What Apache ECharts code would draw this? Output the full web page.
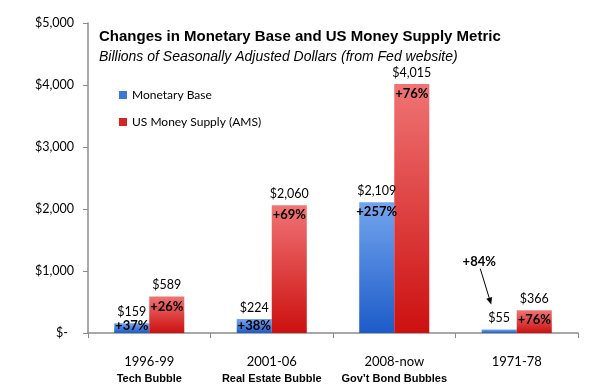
<!DOCTYPE html>
<html><head><meta charset="utf-8">
<script src="https://cdn.jsdelivr.net/npm/echarts@6/dist/echarts.min.js"></script>
<style>html,body{margin:0;padding:0;background:#fff}#c{width:600px;height:392px}</style>
</head><body><div id="c"></div>
<script>
const categories = ['1996-99', '2001-06', '2008-now', '1971-78'];
const categoryNotes = ['Tech Bubble', 'Real Estate Bubble', 'Gov\u2019t Bond Bubbles', ''];
const monetaryBase = [159, 224, 2109, 55];
const moneySupply = [589, 2060, 4015, 366];
const baseChange = ['+37%', '+38%', '+257%', '+84%'];
const supplyChange = ['+26%', '+69%', '+76%', '+76%'];
const yMin = 0, yMax = 5000, yStep = 1000;

const BAR_FRAC = 0.286;
const chart = echarts.init(document.getElementById('c'), null, {renderer: 'canvas'});

function grad(top, bottom) {
  return new echarts.graphic.LinearGradient(0, 0, 0, 1, [
    {offset: 0, color: top}, {offset: 1, color: bottom}
  ]);
}

function pctRenderer(labels, side) {
  return function (params, api) {
    const i = params.dataIndex;
    const cat = api.value(0), v = api.value(1);
    const top = api.coord([cat, v]);
    const base = api.coord([cat, 0]);
    const band = api.size([1, 0])[0];
    const x = top[0] + side * band * BAR_FRAC / 2;
    const h = base[1] - top[1];
    const font = 'bold 13px Lato';
    if (h < 8) {
      const tx = x - 20, ty = top[1] - 68;
      const x1 = x - 19, y1 = top[1] - 61, x2 = x - 8, y2 = top[1] - 25;
      const dx = x2 - x1, dy = y2 - y1, len = Math.sqrt(dx * dx + dy * dy);
      const ux = dx / len, uy = dy / len;
      const al = 7, aw = 3;
      const bx = x2 - ux * al, by = y2 - uy * al;
      return {
        type: 'group',
        children: [
          {type: 'text', style: {text: labels[i], x: tx, y: ty, align: 'center', verticalAlign: 'middle', font: font, fill: '#000'}},
          {type: 'line', shape: {x1: x1, y1: y1, x2: bx, y2: by}, style: {stroke: '#000', lineWidth: 1}},
          {type: 'polygon', shape: {points: [[x2, y2], [bx - uy * aw, by + ux * aw], [bx + uy * aw, by - ux * aw]]}, style: {fill: '#000'}}
        ]
      };
    }
    const y = Math.min(top[1] + 10, base[1] - 7);
    return {type: 'text', style: {text: labels[i], x: x, y: y, align: 'center', verticalAlign: 'middle', font: font, fill: '#000'}};
  };
}

const valueLabel = {
  show: true, position: 'top', distance: 5,
  fontFamily: 'Lato', fontSize: 12.5, color: '#000',
  formatter: p => '$' + p.value.toLocaleString('en-US')
};

chart.setOption({
  animation: false,
  backgroundColor: '#fff',
  title: {
    text: 'Changes in Monetary Base and US Money Supply Metric',
    subtext: 'Billions of Seasonally Adjusted Dollars (from Fed website)',
    left: 99, top: 28, padding: 0, itemGap: 2,
    textStyle: {fontFamily: 'Liberation Sans', fontSize: 15, fontWeight: 'bold', color: '#000', lineHeight: 18},
    subtextStyle: {fontFamily: 'Liberation Sans', fontSize: 14, fontStyle: 'italic', color: '#000', lineHeight: 18}
  },
  legend: {
    orient: 'vertical', left: 119, top: 88, padding: 0,
    itemWidth: 8, itemHeight: 8, itemGap: 13, icon: 'rect',
    textStyle: {fontFamily: 'Lato', fontSize: 12, color: '#000', lineHeight: 14},
    data: [
      {name: 'Monetary Base', itemStyle: {color: '#3a77d6'}},
      {name: 'US Money Supply (AMS)', itemStyle: {color: '#d42424'}}
    ]
  },
  grid: {left: 88, right: 22, top: 23, bottom: 59},
  xAxis: {
    type: 'category', data: categories,
    axisLine: {lineStyle: {color: '#8c8c8c', width: 1.5}},
    axisTick: {show: true, length: 5, lineStyle: {color: '#8c8c8c'}},
    axisLabel: {
      margin: 20, interval: 0,
      formatter: (v, i) => '{a|' + v + '}\n{b|' + (categoryNotes[i] || ' ') + '}',
      rich: {
        a: {fontFamily: 'Lato', fontSize: 13, color: '#000', lineHeight: 17},
        b: {fontFamily: 'Liberation Sans', fontSize: 11, fontWeight: 'bold', color: '#000', lineHeight: 18}
      }
    }
  },
  yAxis: {
    type: 'value', min: yMin, max: yMax, interval: yStep,
    axisLine: {show: true, lineStyle: {color: '#8c8c8c', width: 1.5}},
    axisTick: {show: true, length: 5, lineStyle: {color: '#8c8c8c'}},
    splitLine: {show: false},
    axisLabel: {
      margin: 14,
      formatter: v => v === 0 ? '{z|$-}' : '$' + v.toLocaleString('en-US'),
      fontFamily: 'Lato', fontSize: 12.5, color: '#000',
      rich: {z: {fontFamily: 'Lato', fontSize: 12.5, color: '#000', padding: [0, 6, 0, 0]}}
    }
  },
  series: [
    {
      name: 'Monetary Base', type: 'bar', data: monetaryBase,
      barWidth: (BAR_FRAC * 100) + '%', barGap: '0%',
      itemStyle: {color: grad('#74a5ee', '#1c5bc8')},
      label: valueLabel
    },
    {
      name: 'US Money Supply (AMS)', type: 'bar', data: moneySupply,
      barWidth: (BAR_FRAC * 100) + '%', barGap: '0%',
      itemStyle: {color: grad('#f07474', '#cc1010')},
      label: valueLabel
    },
    {
      type: 'custom', z: 5, silent: true,
      data: monetaryBase.map((v, i) => [i, v]),
      encode: {x: 0, y: 1},
      renderItem: pctRenderer(baseChange, -1)
    },
    {
      type: 'custom', z: 5, silent: true,
      data: moneySupply.map((v, i) => [i, v]),
      encode: {x: 0, y: 1},
      renderItem: pctRenderer(supplyChange, 1)
    }
  ]
});
</script>
</body></html>
